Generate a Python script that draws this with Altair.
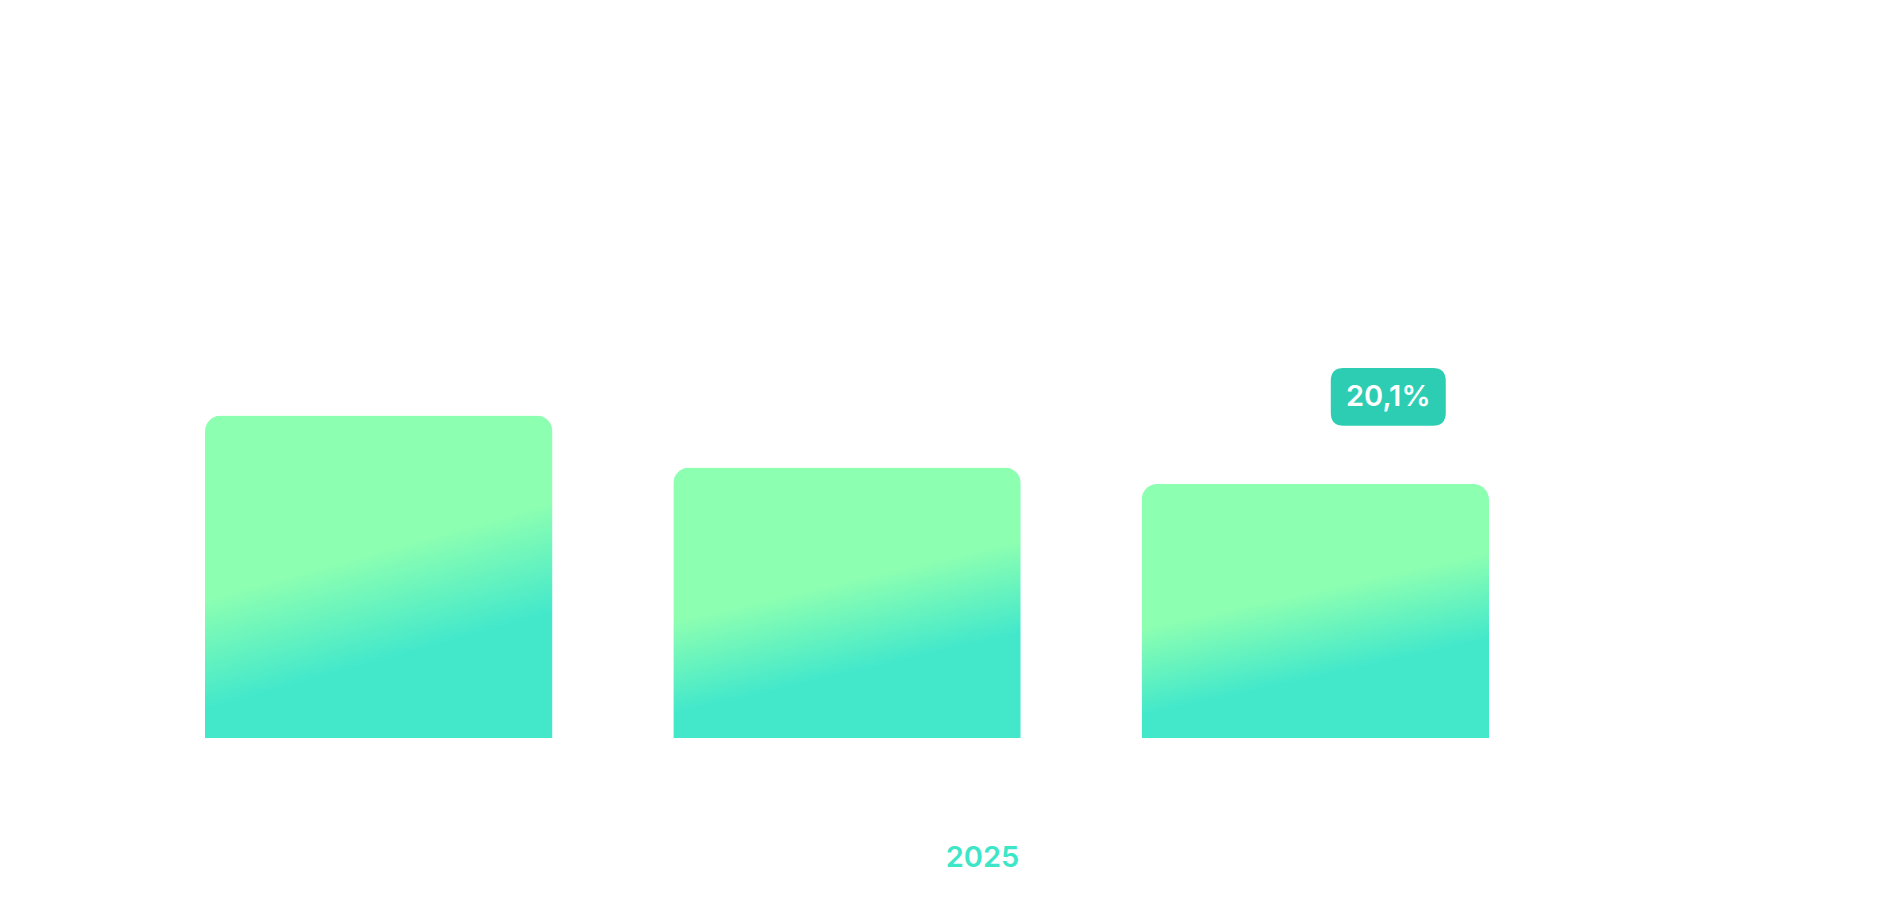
import altair as alt
import pandas as pd

series = ["A", "B", "C"]
values = [25.5, 21.4, 20.1]
labels = ["", "", "20,1%"]
year_label = "2025"

df = pd.DataFrame({"series": series, "value": values, "label": labels})

grad = alt.LinearGradient(
    gradient="linear",
    x1=0, y1=0, x2=0.3, y2=1,
    stops=[
        alt.GradientStop(color="#8DFFB1", offset=0),
        alt.GradientStop(color="#8DFFB1", offset=0.52),
        alt.GradientStop(color="#43E8CB", offset=0.835),
        alt.GradientStop(color="#43E8CB", offset=1),
    ],
)

x_enc = alt.X(
    "series:N",
    sort=series,
    scale=alt.Scale(paddingInner=0.258, paddingOuter=0),
    axis=alt.Axis(
        title=year_label, labels=False, ticks=False, domain=False,
        titleFont="Inter", titleFontSize=29, titleFontWeight=600,
        titleColor="#3EE6C8", titleX=777, titleY=128,
        titleAlign="center", titleBaseline="alphabetic",
    ),
)
y_enc = alt.Y("value:Q", scale=alt.Scale(domain=[0, 56], nice=False, zero=True), axis=None)

bars = alt.Chart(df).mark_bar(
    color=grad, cornerRadiusTopLeft=16, cornerRadiusTopRight=16
).encode(x=x_enc, y=y_enc)

box_path = ("M -0.774,-0.504 L 0.774,-0.504 Q 1,-0.504 1,-0.278 L 1,0.278 "
            "Q 1,0.504 0.774,0.504 L -0.774,0.504 Q -1,0.504 -1,0.278 "
            "L -1,-0.278 Q -1,-0.504 -0.774,-0.504 Z")

lab = alt.Chart(df).transform_filter(alt.datum.label != "")

boxes = lab.mark_point(
    shape=box_path, size=13225, filled=True, color="#2CCDB3", opacity=1,
    xOffset=73, yOffset=-87, strokeWidth=0,
).encode(x=x_enc, y=y_enc)

texts = lab.mark_text(
    font="Inter", fontSize=29, fontWeight=600, color="white",
    baseline="middle", align="center", xOffset=73, yOffset=-87,
).encode(x=x_enc, y=y_enc, text="label:N")

chart = alt.layer(bars, boxes, texts).properties(
    width=1284, height=708,
    padding={"left": 197, "right": 394, "top": 22, "bottom": 170},
    autosize=alt.AutoSizeParams(type="none"),
    background="white",
).configure_view(stroke=None)

chart.save("out.html", embed_options={"renderer": "svg", "actions": False})
